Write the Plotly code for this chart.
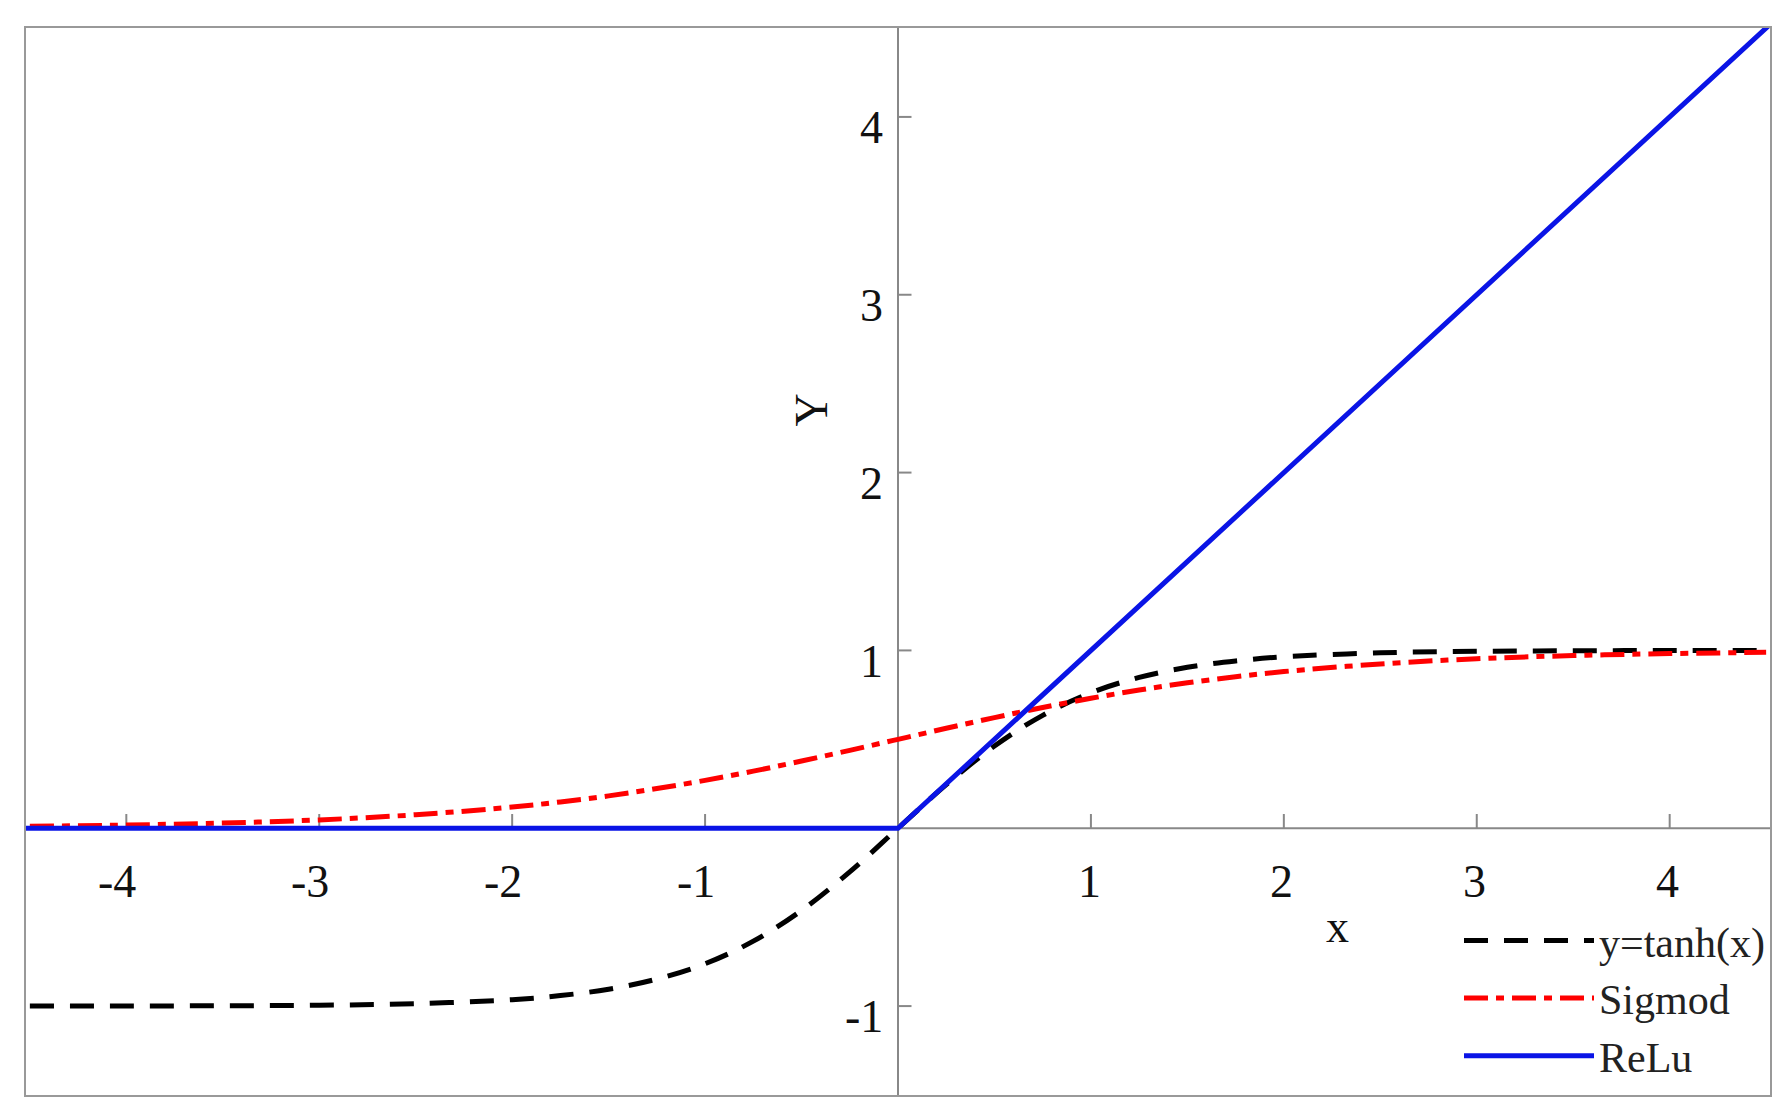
import plotly.graph_objects as go

x_vals = [-4.5,-4,-3.5,-3,-2.5,-2,-1.75,-1.5,-1.25,-1,-0.75,-0.5,-0.25,0,0.25,0.5,0.75,1,1.25,1.5,1.75,2,2.5,3,3.5,4,4.5]
tanh_vals = [-0.9998,-0.9993,-0.9982,-0.9951,-0.9866,-0.964,-0.941,-0.905,-0.848,-0.762,-0.635,-0.462,-0.245,0,0.245,0.462,0.635,0.762,0.848,0.905,0.941,0.964,0.9866,0.9951,0.9982,0.9993,0.9998]
sig_vals = [0.011,0.018,0.029,0.047,0.076,0.119,0.148,0.182,0.223,0.269,0.321,0.378,0.438,0.5,0.562,0.622,0.679,0.731,0.777,0.818,0.852,0.881,0.924,0.953,0.971,0.982,0.989]
relu_x = [-4.6, 0, 4.6]
relu_y = [0, 0, 4.6]
x_ticks = [-4,-3,-2,-1,1,2,3,4]
y_ticks = [-1,1,2,3,4]

FONT = "Liberation Serif"
fig = go.Figure()

fig.add_trace(go.Scatter(x=[-4.6,4.6,None,0,0], y=[0,0,None,-1.6,4.6], mode="lines",
                         line=dict(color="#888888", width=2), showlegend=False, hoverinfo="skip"))
tx, ty = [], []
for t in x_ticks:
    tx += [t, t, None]; ty += [0, 0.08, None]
for t in y_ticks:
    tx += [0, 0.07, None]; ty += [t, t, None]
fig.add_trace(go.Scatter(x=tx, y=ty, mode="lines", line=dict(color="#888888", width=2),
                         showlegend=False, hoverinfo="skip"))

fig.add_trace(go.Scatter(x=x_vals, y=tanh_vals, mode="lines", name="y=tanh(x)", line_shape="spline",
                         line=dict(color="black", width=5, dash="24px,16px")))
fig.add_trace(go.Scatter(x=x_vals, y=sig_vals, mode="lines", name="Sigmod", line_shape="spline",
                         line=dict(color="red", width=5, dash="24px,8px,8px,8px")))
fig.add_trace(go.Scatter(x=relu_x, y=relu_y, mode="lines", name="ReLu",
                         line=dict(color="#0a14e6", width=5)))

for t in x_ticks:
    fig.add_annotation(x=t+0.06, y=-0.3, text=str(t), showarrow=False, xanchor="right", yanchor="middle",
                       font=dict(family=FONT, size=46, color="#111"))
for t in y_ticks:
    fig.add_annotation(x=-0.07, y=t-0.06, text=str(t), showarrow=False, xanchor="right", yanchor="middle",
                       font=dict(family=FONT, size=46, color="#111"))
fig.add_annotation(x=-0.45, y=2.35, text="Y", showarrow=False, textangle=-90,
                   font=dict(family=FONT, size=46, color="#111"))
fig.add_annotation(x=2.28, y=-0.55, text="x", showarrow=False,
                   font=dict(family=FONT, size=46, color="#111"))

fig.update_xaxes(range=[-4.52, 4.52], showgrid=False, zeroline=False, showticklabels=False,
                 showline=True, mirror=True, linecolor="#999999", linewidth=2)
fig.update_yaxes(range=[-1.5, 4.5], showgrid=False, zeroline=False, showticklabels=False,
                 showline=True, mirror=True, linecolor="#999999", linewidth=2)
fig.update_layout(width=1788, height=1110, margin=dict(l=18, r=26, t=20, b=23),
                  plot_bgcolor="white", paper_bgcolor="white",
                  legend=dict(x=1.0, y=0.005, xanchor="right", yanchor="bottom",
                              bgcolor="rgba(255,255,255,0)", font=dict(family=FONT, size=42, color="#222"),
                              itemwidth=130, tracegroupgap=0))
fig.write_html("out.html")
